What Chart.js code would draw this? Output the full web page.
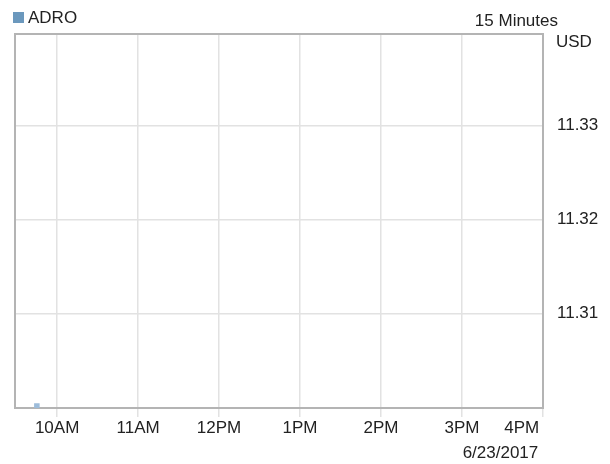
<!DOCTYPE html>
<html>
<head>
<meta charset="utf-8">
<script src="https://cdn.jsdelivr.net/npm/chart.js@4"></script>
<style>
  html, body { margin: 0; padding: 0; background: #fff; }
  #wrap { width: 610px; height: 464px; }
</style>
</head>
<body>
<div id="wrap"><canvas id="c" width="610" height="464"></canvas></div>
<script>
// ---- data ----
const seriesName = 'ADRO';
const times = [9.75];           // hours of the day
const prices = [11.3002];       // USD
const hourTicks = [10, 11, 12, 13, 14, 15, 16];
const hourLabels = ['10AM', '11AM', '12PM', '1PM', '2PM', '3PM', '4PM'];
const priceTicks = [11.31, 11.32, 11.33];
const intervalLabel = '15 Minutes';
const currencyLabel = 'USD';
const dateLabel = '6/23/2017';

const FONT = '"Liberation Sans", Arial, sans-serif';
const FS = 17;
const TEXT = '#222';

const overlay = {
  id: 'overlay',
  beforeDatasetsDraw(chart) {
    const { ctx, chartArea: a } = chart;
    ctx.save();
    ctx.strokeStyle = '#b4b4b4';
    ctx.lineWidth = 2;
    ctx.strokeRect(a.left, a.top, a.right - a.left, a.bottom - a.top);
    ctx.restore();
  },
  afterDraw(chart) {
    const { ctx } = chart;
    ctx.save();
    ctx.font = FS + 'px ' + FONT;
    ctx.textBaseline = 'middle';
    // legend
    ctx.fillStyle = '#6b98bd';
    ctx.fillRect(13, 12, 11, 11);
    ctx.fillStyle = TEXT;
    ctx.textAlign = 'left';
    ctx.fillText(seriesName, 28, 18);
    // interval
    ctx.textAlign = 'right';
    ctx.fillText(intervalLabel, 558, 21);
    // currency
    ctx.textAlign = 'left';
    ctx.fillText(currencyLabel, 556, 42);
    ctx.restore();
  }
};

new Chart(document.getElementById('c'), {
  type: 'line',
  data: {
    datasets: [{
      label: seriesName,
      data: times.map((t, i) => ({ x: t, y: prices[i] })),
      borderColor: '#6b98bd',
      backgroundColor: '#9dbcda',
      pointBackgroundColor: '#9dbcda',
      pointBorderColor: '#9dbcda',
      pointStyle: 'rect',
      pointRadius: 2.5,
      showLine: true,
      borderWidth: 2
    }]
  },
  options: {
    responsive: false,
    animation: false,
    devicePixelRatio: 1,
    layout: { padding: { top: 34, left: 15, right: 0, bottom: 0 } },
    plugins: {
      legend: { display: false },
      tooltip: { enabled: false }
    },
    scales: {
      x: {
        type: 'linear',
        min: 9.48,
        max: 16,
        afterBuildTicks: s => { s.ticks = hourTicks.map(v => ({ value: v })); },
        afterFit: s => { s.height = 56; },
        grid: { color: '#e2e2e2', lineWidth: 1.5, drawTicks: true, tickLength: 9, tickColor: '#e2e2e2' },
        border: { display: false },
        ticks: {
          autoSkip: false,
          maxRotation: 0,
          padding: 1,
          color: TEXT,
          font: { family: FONT, size: FS },
          callback: v => {
            const i = hourTicks.indexOf(v);
            if (i < 0) return '';
            return i === hourTicks.length - 1 ? hourLabels[i] + '\u00a0'.repeat(9) : hourLabels[i];
          }
        },
        title: {
          display: true,
          text: dateLabel + '\u00a0',
          align: 'end',
          color: TEXT,
          font: { family: FONT, size: FS },
          padding: { top: 6, bottom: 0 }
        }
      },
      y: {
        position: 'right',
        min: 11.30,
        max: 11.3397,
        afterBuildTicks: s => { s.ticks = priceTicks.map(v => ({ value: v })); },
        afterFit: s => { s.width = 67; },
        grid: { color: '#e2e2e2', lineWidth: 1.5, drawTicks: false },
        border: { display: false },
        ticks: {
          padding: 14,
          color: TEXT,
          font: { family: FONT, size: FS },
          callback: v => v.toFixed(2)
        }
      }
    }
  },
  plugins: [overlay]
});
</script>
</body>
</html>
